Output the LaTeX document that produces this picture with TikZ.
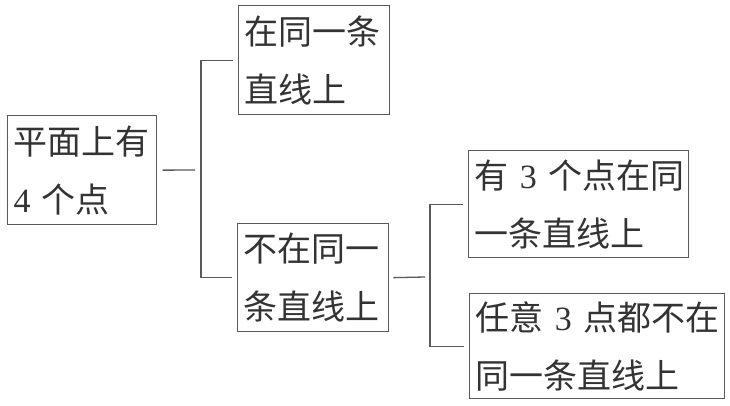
\documentclass[tikz,border=0pt]{standalone}
\usepackage{fontspec}
\newfontfamily\cjk{Noto Sans CJK SC}
\newfontfamily\digit{Liberation Serif}
\usetikzlibrary{positioning}
\definecolor{ink}{HTML}{333333}
\definecolor{rule}{HTML}{5A5A5A}
\newcommand\dg[1]{{\digit #1}}
\tikzset{
  box/.style={draw=rule, line width=1.3pt, rectangle, anchor=north west,
    inner xsep=6pt, inner ysep=0pt, align=left, text=ink,
    font=\cjk\fontsize{34}{58}\selectfont},
  link/.style={draw=rule, line width=1.3pt}
}
\begin{document}
\begin{tikzpicture}[x=1pt,y=-1pt]
\useasboundingbox (0,0) rectangle (730,405);
% boxes
\node [box, minimum width=149pt, minimum height=109pt, text width=137pt] (root) at (7,115) {平面上有\\\dg{4}~个点};
\node [box, minimum width=151pt, minimum height=109pt, text width=139pt] (same) at (238,5) {在同一条\\直线上};
\node [box, minimum width=151pt, minimum height=108pt, text width=139pt] (notsame) at (237,223) {不在同一\\条直线上};
\node [box, minimum width=220pt, minimum height=107pt, text width=208pt] (three) at (468,150) {有~\dg{3}~个点在同\\一条直线上};
\node [box, minimum width=255pt, minimum height=105pt, text width=243pt] (none) at (469,293) {任意~\dg{3}~点都不在\\同一条直线上};
% spines
\coordinate (s1) at (201,170);
\coordinate (s2) at (430,277);
% connectors
\draw [link] ([xshift=5pt]root.east) -- ([xshift=-6pt]s1);
\draw [link] ([xshift=-5pt]same.west) -| (s1 |- notsame.west) -- ([xshift=-5pt]notsame.west);
\draw [link] ([xshift=4pt]notsame.east) -- ([xshift=-5pt]s2);
\draw [link] ([xshift=-5pt]three.west) -| (s2 |- none.west) -- ([xshift=-5pt]none.west);
\end{tikzpicture}
\end{document}
